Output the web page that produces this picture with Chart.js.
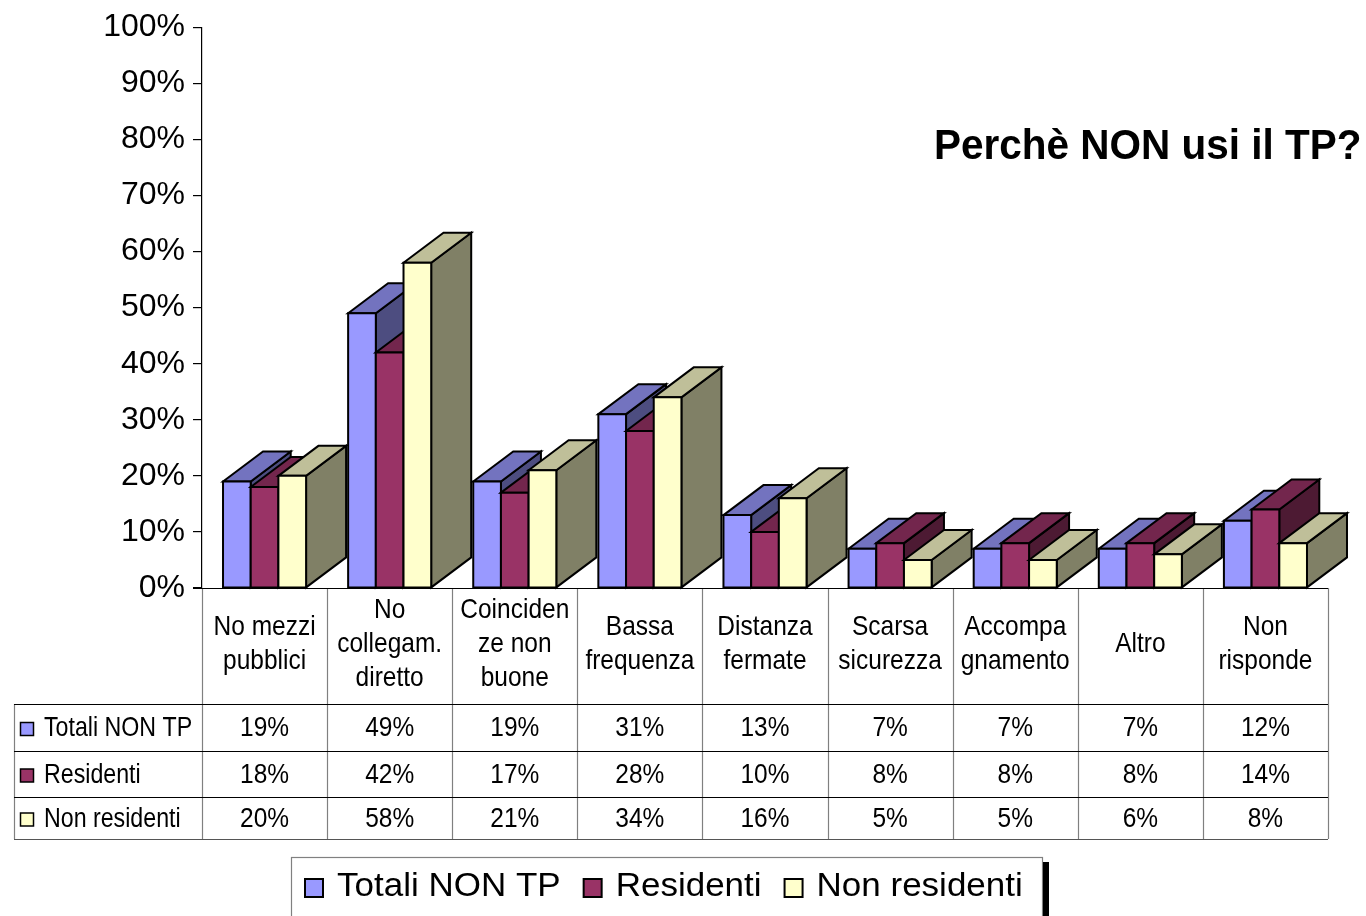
<!DOCTYPE html>
<html><head><meta charset="utf-8">
<script src="https://cdn.jsdelivr.net/npm/chart.js@4/dist/chart.umd.min.js"></script>
<style>html,body{margin:0;padding:0;background:#fff;overflow:hidden;} canvas{display:block;}</style>
</head><body>
<canvas id="c" width="1366" height="916"></canvas>
<script>
// ---- data ----
const categories = [["No mezzi","pubblici"],["No","collegam.","diretto"],["Coinciden","ze non","buone"],["Bassa","frequenza"],["Distanza","fermate"],["Scarsa","sicurezza"],["Accompa","gnamento"],["Altro"],["Non","risponde"]];
const seriesNames = ["Totali NON TP","Residenti","Non residenti"];
const totaliNonTP = [19,49,19,31,13,7,7,7,12];
const residenti = [18,42,17,28,10,8,8,8,14];
const nonResidenti = [20,58,21,34,16,5,5,6,8];
const yTickValues = [0,10,20,30,40,50,60,70,80,90,100];
const titleText = "Perchè NON usi il TP?";

// ---- styles ----
const FONT = "'Liberation Sans', Arial, sans-serif";
const frontCol = ['#9999FF','#993366','#FFFFCC'];
const topCol = ['#7373BF','#73264D','#BFBF99'];
const sideCol = ['#4D4D80','#4D1A33','#808066'];
const DX = 40, DY = -30;
const seriesValues = [totaliNonTP, residenti, nonResidenti];

function stretchText(ctx, txt, x, y, scaleY){
  ctx.save(); ctx.translate(x,y); ctx.scale(1,scaleY); ctx.fillText(txt,0,0); ctx.restore();
}
function poly(ctx, pts, fill){
  ctx.beginPath(); ctx.moveTo(pts[0][0],pts[0][1]);
  for(let i=1;i<pts.length;i++) ctx.lineTo(pts[i][0],pts[i][1]);
  ctx.closePath(); ctx.fillStyle=fill; ctx.fill(); ctx.stroke();
}

const bars3d = {
  id:'bars3d',
  afterDatasetsDraw(chart){
    const ctx = chart.ctx;
    const metas = seriesValues.map((_,i)=>chart.getDatasetMeta(i));
    ctx.save();
    ctx.lineWidth = 2; ctx.strokeStyle = '#000'; ctx.lineJoin='miter';
    for(let c=0;c<categories.length;c++){
      for(let d=0;d<metas.length;d++){
        const el = metas[d].data[c];
        const p = el.getProps(['x','y','base','width'], true);
        const xl = p.x - p.width/2, xr = p.x + p.width/2, yt = p.y, yb = p.base;
        poly(ctx, [[xr,yt],[xr+DX,yt+DY],[xr+DX,yb+DY],[xr,yb]], sideCol[d]);
        poly(ctx, [[xl,yt],[xl+DX,yt+DY],[xr+DX,yt+DY],[xr,yt]], topCol[d]);
        poly(ctx, [[xl,yt],[xr,yt],[xr,yb],[xl,yb]], frontCol[d]);
      }
    }
    ctx.restore();
  },
  afterDraw(chart){
    const ctx = chart.ctx, ca = chart.chartArea, xs = chart.scales.x;
    const n = categories.length;
    const cw = (ca.right - ca.left)/n;
    const top = ca.bottom, rows = [704, 751, 797, 839];
    const leftX = 14;
    ctx.save();
    // vertical gray lines
    ctx.strokeStyle = '#808080'; ctx.lineWidth = 1.2;
    for(let i=0;i<=n;i++){
      const x = Math.round(ca.left + i*cw)+0.5;
      ctx.beginPath(); ctx.moveTo(x, top); ctx.lineTo(x, rows[3]); ctx.stroke();
    }
    ctx.beginPath(); ctx.moveTo(leftX+0.5, rows[0]); ctx.lineTo(leftX+0.5, rows[3]); ctx.stroke();
    // horizontal lines
    ctx.strokeStyle = '#000'; ctx.lineWidth = 1.2;
    ctx.beginPath(); ctx.moveTo(ca.left-9, top+0.5); ctx.lineTo(ca.right, top+0.5); ctx.stroke();
    for(let r=0;r<4;r++){
      ctx.strokeStyle = r===3 ? '#555' : '#000';
      ctx.beginPath(); ctx.moveTo(leftX, rows[r]+0.5); ctx.lineTo(ca.right, rows[r]+0.5); ctx.stroke();
    }
    // header text
    ctx.fillStyle = '#000'; ctx.textAlign='center'; ctx.textBaseline='middle';
    ctx.font = '24.5px ' + FONT;
    const lh = 34, hc = 644;
    for(let i=0;i<n;i++){
      const cx = xs.getPixelForValue(i);
      const lines = categories[i];
      lines.forEach((t,k)=> stretchText(ctx, t, cx, hc + (k-(lines.length-1)/2)*lh, 1.15));
    }
    // value rows
    for(let d=0; d<seriesValues.length; d++){
      const yc = (rows[d]+rows[d+1])/2 + 1;
      ctx.font = '24.5px ' + FONT;
      ctx.textAlign='center';
      for(let i=0;i<n;i++){
        stretchText(ctx, seriesValues[d][i]+'%', xs.getPixelForValue(i), yc, 1.15);
      }
      // legend key
      ctx.fillStyle = frontCol[d]; ctx.strokeStyle='#000'; ctx.lineWidth=1.5;
      ctx.fillRect(20.5, yc-6, 13, 13); ctx.strokeRect(20.5, yc-6, 13, 13);
      ctx.fillStyle='#000'; ctx.textAlign='left';
      ctx.font = '23.2px ' + FONT;
      stretchText(ctx, seriesNames[d], 44, yc, 1.2);
    }
    // bottom legend
    ctx.strokeStyle='#808080'; ctx.lineWidth=1.2;
    ctx.strokeRect(291.5, 857.5, 751, 80);
    ctx.fillStyle='#000'; ctx.fillRect(1043, 862, 6, 60);
    ctx.font = '35px ' + FONT; ctx.textAlign='left'; ctx.textBaseline='middle';
    let lx = 305;
    for(let d=0; d<seriesNames.length; d++){
      ctx.fillStyle = frontCol[d]; ctx.strokeStyle='#000'; ctx.lineWidth=2;
      ctx.fillRect(lx, 879, 18, 18); ctx.strokeRect(lx, 879, 18, 18);
      ctx.fillStyle='#000';
      stretchText(ctx, seriesNames[d], lx+32, 887, 0.96);
      lx += 32 + ctx.measureText(seriesNames[d]).width + 23;
    }
    // title
    ctx.font = 'bold 40.5px ' + FONT; ctx.textAlign='left'; ctx.textBaseline='middle';
    stretchText(ctx, titleText, 934, 147, 1.06);
    ctx.restore();
  }
};

new Chart(document.getElementById('c'), {
  type:'bar',
  data:{
    labels: categories.map(c=>c.join(' ')),
    datasets: seriesValues.map((v,i)=>({label:seriesNames[i], data:v, backgroundColor:'rgba(0,0,0,0)', borderWidth:0}))
  },
  options:{
    responsive:false, animation:false, devicePixelRatio:1,
    layout:{padding:{left:0, top:25, right:38, bottom:328}},
    categoryPercentage:0.664, barPercentage:1.0,
    plugins:{legend:{display:false}, title:{display:false}, tooltip:{enabled:false}},
    scales:{
      x:{display:false},
      y:{
        min:0, max:100,
        afterFit(s){ s.width = 202; },
        afterBuildTicks(s){ s.ticks = yTickValues.map(v=>({value:v})); },
        border:{display:true, color:'#000', width:1.2},
        grid:{drawOnChartArea:false, drawTicks:true, tickLength:9, color:'#000', lineWidth:1.2},
        ticks:{padding:8, color:'#000', font:{size:32, family:FONT}, callback:v=>v+'%'}
      }
    }
  },
  plugins:[bars3d]
});
</script>
</body></html>
